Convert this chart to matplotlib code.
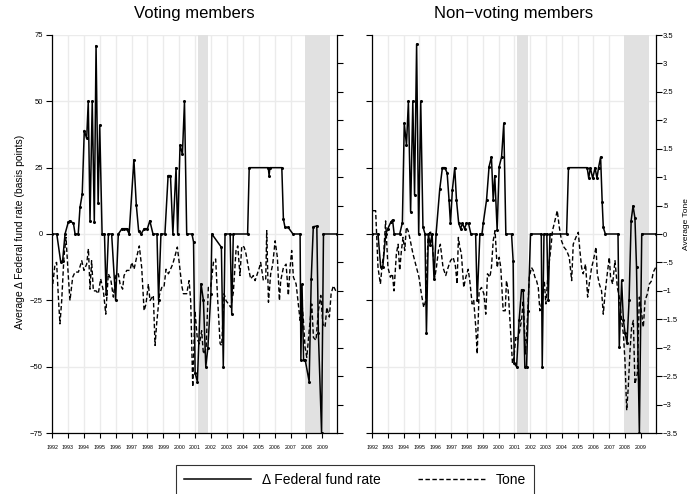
import numpy as np
import matplotlib
matplotlib.use("Agg")
import matplotlib.pyplot as plt
from matplotlib.lines import Line2D
from matplotlib.ticker import FuncFormatter

plt.rcParams['font.family'] = ['Liberation Sans', 'DejaVu Sans']
plt.rcParams['axes.unicode_minus'] = True

# ---------------- data ----------------
# Voting members: change in federal funds rate (basis points)
vote_rate_t = [1992.00, 1992.30, 1992.55, 1992.67, 1992.82, 1993.02, 1993.12, 1993.35, 1993.45, 1993.65,
               1993.76, 1993.90, 1994.03, 1994.18, 1994.28, 1994.39, 1994.53, 1994.66, 1994.77, 1994.90,
               1995.00, 1995.15, 1995.30, 1995.40, 1995.55, 1995.75, 1996.00, 1996.17, 1996.40, 1996.55,
               1996.70, 1996.85, 1997.15, 1997.30, 1997.45, 1997.60, 1997.80, 1998.00, 1998.15, 1998.35,
               1998.60, 1998.70, 1998.85, 1999.10, 1999.30, 1999.45, 1999.60, 1999.80, 1999.90, 2000.05,
               2000.20, 2000.33, 2000.47, 2000.80, 2000.90, 2001.00, 2001.14, 2001.37, 2001.52, 2001.67,
               2001.80, 2001.99, 2002.05, 2002.65, 2002.77, 2002.88, 2003.20, 2003.30, 2003.40, 2004.30,
               2004.40, 2005.60, 2005.65, 2005.70, 2006.45, 2006.55, 2006.65, 2006.85, 2007.15, 2007.60,
               2007.65, 2007.72, 2007.82, 2007.92, 2008.17, 2008.30, 2008.43, 2008.65, 2008.75, 2008.95,
               2009.07, 2009.92]
vote_rate = [0, 0, -10.6, -10, 0, 4.4, 5, 4, 0, 0,
             10, 15, 39, 36, 50, 5, 50, 4.6, 71, 11.5,
             41, 0, 0, -22.5, 0, 0, -25, 0, 2, 2,
             2, 0, 28, 11, 1, 0, 2, 2, 5, 0,
             0, -25, 0, 0, 22, 22, 0, 25, 0, 33.5,
             30, 50, 0, 0, -3, -52.5, -55.6, -18.75, -25, -50,
             -43, -22.5, 0, -5, -50, 0, 0, -30, 0, 0,
             25, 25, 22, 25, 25, 5.6, 2.5, 2.5, 0, 0,
             -47.5, -19, -47.5, -47.5, -55.6, -17, 2.75, 3, -37.5, -75,
             0, 0]

# Voting members: average tone
vote_tone_t = [1992.00, 1992.19, 1992.29, 1992.40, 1992.50, 1992.61, 1992.75, 1992.88, 1993.03, 1993.13,
               1993.30, 1993.45, 1993.66, 1993.87, 1994.01, 1994.18, 1994.29, 1994.39, 1994.49, 1994.60,
               1994.77, 1994.91, 1995.06, 1995.23, 1995.38, 1995.54, 1995.69, 1995.86, 1996.03, 1996.17,
               1996.28, 1996.44, 1996.53, 1996.70, 1996.91, 1997.01, 1997.16, 1997.32, 1997.49, 1997.64,
               1997.79, 1997.91, 1998.06, 1998.16, 1998.37, 1998.48, 1998.58, 1998.75, 1998.90, 1999.04,
               1999.17, 1999.32, 1999.42, 1999.59, 1999.74, 1999.88, 2000.01, 2000.16, 2000.26, 2000.47,
               2000.62, 2000.72, 2000.85, 2000.99, 2001.14, 2001.27, 2001.41, 2001.52, 2001.69, 2001.83,
               2001.98, 2002.15, 2002.29, 2002.42, 2002.57, 2002.67, 2002.82, 2002.94, 2003.09, 2003.24,
               2003.40, 2003.57, 2003.68, 2003.82, 2003.93, 2004.08, 2004.20, 2004.35, 2004.49, 2004.66,
               2004.77, 2004.91, 2005.04, 2005.12, 2005.29, 2005.44, 2005.50, 2005.61, 2005.75, 2005.88,
               2006.03, 2006.17, 2006.30, 2006.38, 2006.55, 2006.72, 2006.86, 2006.97, 2007.07, 2007.18,
               2007.35, 2007.49, 2007.60, 2007.70, 2007.81, 2007.91, 2008.02, 2008.12, 2008.23, 2008.33,
               2008.44, 2008.60, 2008.75, 2008.90, 2009.03, 2009.17, 2009.28, 2009.44, 2009.55, 2009.69,
               2009.84]
vote_tone = [-1.00, -0.53, -0.50, -1.11, -1.58, -1.17, -0.41, -0.06, -0.76, -1.17,
             -0.76, -0.67, -0.67, -0.47, -0.64, -0.53, -0.26, -0.97, -0.47, -1.00,
             -1.00, -1.05, -0.79, -1.00, -1.41, -0.70, -0.79, -1.11, -0.70, -0.70,
             -0.88, -0.97, -0.73, -0.64, -0.64, -0.50, -0.62, -0.41, -0.21, -0.59,
             -1.35, -1.23, -0.88, -1.17, -1.08, -1.96, -1.58, -1.08, -0.94, -0.94,
             -0.62, -0.70, -0.64, -0.53, -0.38, -0.23, -0.53, -0.91, -1.05, -1.05,
             -0.82, -1.17, -2.69, -1.35, -1.85, -1.93, -1.70, -2.11, -2.02, -0.94,
             -0.94, -0.50, -0.44, -1.17, -1.93, -1.96, -1.05, -1.17, -1.23, -1.29,
             -1.03, -0.29, -0.21, -0.73, -0.21, -0.23, -0.35, -0.59, -0.79, -0.73,
             -0.82, -0.70, -0.59, -0.50, -0.82, -0.79, 0.06, -1.20, -0.70, -0.53,
             -0.12, -0.41, -1.17, -0.82, -0.59, -0.53, -1.08, -0.59, -0.29, -0.76,
             -0.88, -1.23, -1.52, -1.17, -1.52, -1.99, -2.17, -1.85, -1.52, -1.23,
             -1.82, -1.87, -1.35, -1.08, -1.58, -1.64, -1.29, -1.46, -1.05, -0.91,
             -1.00]

# Non-voting members: change in federal funds rate (basis points)
nonvote_rate_t = [1992.00, 1992.38, 1992.55, 1992.68, 1992.87, 1993.00, 1993.20, 1993.30, 1993.40, 1993.75,
                  1993.92, 1994.04, 1994.18, 1994.30, 1994.44, 1994.58, 1994.69, 1994.82, 1994.95, 1995.08,
                  1995.22, 1995.35, 1995.44, 1995.56, 1995.68, 1995.80, 1995.92, 1996.05, 1996.28, 1996.45,
                  1996.60, 1996.75, 1996.87, 1996.96, 1997.08, 1997.23, 1997.34, 1997.48, 1997.60, 1997.72,
                  1997.85, 1997.97, 1998.10, 1998.25, 1998.55, 1998.65, 1998.82, 1998.95, 1999.03, 1999.24,
                  1999.40, 1999.55, 1999.66, 1999.76, 1999.91, 2000.04, 2000.19, 2000.33, 2000.46, 2000.82,
                  2000.92, 2000.99, 2001.14, 2001.30, 2001.45, 2001.56, 2001.66, 2001.77, 2001.87, 2002.02,
                  2002.70, 2002.76, 2002.87, 2003.05, 2003.14, 2003.25, 2004.30, 2004.42, 2005.60, 2005.70,
                  2005.80, 2005.95, 2006.10, 2006.22, 2006.32, 2006.45, 2006.55, 2006.62, 2006.75, 2007.55,
                  2007.63, 2007.78, 2007.89, 2008.00, 2008.12, 2008.25, 2008.38, 2008.50, 2008.62, 2008.72,
                  2008.90, 2009.05, 2009.92]
nonvote_rate = [0, 0, -12.5, -12.5, 0, 2, 4.6, 5.3, 0, 0,
                4.3, 41.7, 33.5, 50, 8.4, 50, 14.7, 71.6, 0, 50,
                2.8, 0, -37.5, 0, -4, 0, -17, 0, 16.8, 25,
                25, 23, 12.8, 4, 16.6, 25, 12.8, 4, 2, 4,
                2, 4, 4, 0, 0, -25, 0, 0, 4, 12.8,
                25.4, 29, 12.8, 22, 1.5, 25.4, 29, 41.7, 0, 0,
                -10, -48.75, -50, -32.5, -21, -21, -50, -50, -29, 0,
                0, -50, 0, 0, -25, 0, 0, 25, 25, 21,
                25, 21, 25, 21, 25, 29, 12, 2.5, 0, 0,
                -42.5, -17.5, -32.5, -37.5, -41, -25, 5, 10.6, 6, -12.5,
                -75, 0, 0]

# Non-voting members: average tone
nonvote_tone_t = [1992.06, 1992.23, 1992.38, 1992.53, 1992.65, 1992.74, 1992.86, 1993.01, 1993.16, 1993.29,
                  1993.39, 1993.54, 1993.65, 1993.75, 1993.86, 1993.96, 1994.07, 1994.17, 1994.28, 1994.38,
                  1994.59, 1994.81, 1994.97, 1995.12, 1995.27, 1995.40, 1995.54, 1995.69, 1995.82, 1995.97,
                  1996.07, 1996.20, 1996.32, 1996.49, 1996.66, 1996.81, 1996.96, 1997.13, 1997.27, 1997.38,
                  1997.46, 1997.55, 1997.65, 1997.80, 1997.93, 1998.08, 1998.18, 1998.33, 1998.43, 1998.56,
                  1998.65, 1998.77, 1998.92, 1999.07, 1999.19, 1999.30, 1999.45, 1999.55, 1999.66, 1999.78,
                  1999.91, 2000.04, 2000.14, 2000.29, 2000.42, 2000.50, 2000.61, 2000.76, 2000.88, 2000.97,
                  2001.09, 2001.18, 2001.30, 2001.45, 2001.56, 2001.70, 2001.83, 2001.94, 2002.08, 2002.19,
                  2002.30, 2002.40, 2002.51, 2002.61, 2002.76, 2002.89, 2002.99, 2003.14, 2003.29, 2003.41,
                  2003.56, 2003.71, 2003.84, 2003.98, 2004.13, 2004.30, 2004.47, 2004.62, 2004.72, 2004.89,
                  2005.04, 2005.14, 2005.25, 2005.35, 2005.50, 2005.63, 2005.73, 2005.88, 2005.99, 2006.16,
                  2006.24, 2006.37, 2006.51, 2006.62, 2006.73, 2006.87, 2007.00, 2007.08, 2007.21, 2007.36,
                  2007.51, 2007.63, 2007.78, 2007.89, 2007.99, 2008.10, 2008.20, 2008.31, 2008.41, 2008.52,
                  2008.62, 2008.77, 2008.90, 2009.05, 2009.15, 2009.26, 2009.41, 2009.53, 2009.68, 2009.78,
                  2009.93]
nonvote_tone = [0.41, 0.41, -0.59, -0.88, -0.53, -0.35, 0.23, -0.59, -0.76, -0.70,
                -1.00, -0.35, -0.18, -0.64, -0.29, -0.06, -0.29, 0.12, 0.06, -0.06,
                -0.35, -0.59, -0.76, -1.05, -1.29, -1.17, -0.06, 0.06, -0.18, -0.76,
                -0.59, -0.29, -0.18, -0.59, -0.73, -0.59, -0.47, -0.41, -0.56, -0.88,
                -0.06, -0.23, -0.35, -0.94, -0.76, -0.62, -0.82, -1.23, -1.17, -1.64,
                -2.11, -1.00, -0.94, -1.05, -1.41, -0.70, -0.76, -0.59, -0.12, 0.06,
                -0.59, -0.41, -0.59, -1.35, -1.35, -0.82, -1.00, -1.70, -2.28, -2.17,
                -1.82, -1.87, -1.76, -1.52, -1.17, -2.11, -1.46, -0.76, -0.59, -0.64,
                -0.76, -0.82, -0.94, -1.35, -1.17, -0.82, -1.23, -0.64, -0.29, 0.06,
                0.23, 0.41, 0.12, -0.12, -0.23, -0.29, -0.41, -0.82, -0.18, -0.06,
                0.03, -0.29, -0.59, -0.70, -0.53, -1.11, -0.88, -0.59, -0.47, -0.23,
                -0.70, -0.88, -1.00, -1.41, -1.05, -0.70, -0.41, -0.76, -0.88, -0.47,
                -0.94, -1.11, -1.52, -1.76, -2.23, -3.10, -2.69, -2.05, -1.64, -1.52,
                -2.64, -2.46, -1.11, -1.41, -1.64, -1.17, -1.05, -0.88, -0.82, -0.67,
                -0.59]

# NBER recession periods (decimal years)
recessions = [(2001.17, 2001.83), (2007.92, 2009.50)]

year_ticks = list(range(1992, 2010))
year_labels = [str(y) for y in year_ticks]
rate_ticks = [-75, -50, -25, 0, 25, 50, 75]
tone_ticks = [-3.5, -3, -2.5, -2, -1.5, -1, -0.5, 0, 0.5, 1, 1.5, 2, 2.5, 3, 3.5]


def stata_fmt(v, _pos=None):
    s = ("%g" % v)
    s = s.replace("0.", ".")
    return s.replace("-", "\u2212")


W, H = 692, 494
fig = plt.figure(figsize=(W / 100, H / 100), dpi=100)

panels = [
    ("Voting members", 52, 337, vote_rate_t, vote_rate, vote_tone_t, vote_tone, True),
    ("Non\u2212voting members", 372, 655.5, nonvote_rate_t, nonvote_rate, nonvote_tone_t, nonvote_tone, False),
]

top_px, bot_px = 35, 433
for title, x0, x1, rt, rv, tt, tv, is_left in panels:
    ax = fig.add_axes([x0 / W, 1 - bot_px / H, (x1 - x0) / W, (bot_px - top_px) / H])
    ax.set_xlim(1992, 2009.92)
    ax.set_ylim(-75, 75)
    ax.set_axisbelow(True)
    ax.set_xticks(year_ticks)
    ax.set_xticklabels(year_labels)
    ax.set_yticks(rate_ticks)
    ax.yaxis.set_major_formatter(FuncFormatter(stata_fmt))
    ax.grid(True, color='#ebebeb', lw=1.0)
    for a, b in recessions:
        ax.axvspan(a, b, color='#e1e1e1', lw=0, zorder=1)
    ax.plot(rt, rv, color='black', lw=1.1, marker='o', ms=1.2, zorder=3)
    for s in ('top', 'right'):
        ax.spines[s].set_visible(False)
    for s in ('left', 'bottom'):
        ax.spines[s].set_linewidth(0.9)
    ax.tick_params(axis='x', direction='out', length=3.3, width=0.8, labelsize=3.8, pad=5.5)
    ax.tick_params(axis='y', direction='out', length=4.5, width=0.8, labelsize=5.5, pad=2,
                   labelleft=is_left)

    ax2 = ax.twinx()
    ax2.set_ylim(-3.5, 3.5)
    ax2.set_yticks(tone_ticks)
    ax2.yaxis.set_major_formatter(FuncFormatter(stata_fmt))
    ax2.plot(tt, tv, color='black', lw=1.0, ls=(0, (3.2, 1.8)), zorder=3)
    for s in ('top', 'left', 'bottom'):
        ax2.spines[s].set_visible(False)
    ax2.spines['right'].set_linewidth(0.9)
    ax2.tick_params(axis='y', direction='out', length=4, width=0.8, labelsize=5.5, pad=1.2,
                    labelright=not is_left)

    fig.text((x0 + x1) / 2 / W, 1 - 18 / H, title, ha='center', va='baseline', fontsize=12)

fig.text(20 / W, 1 - 232 / H, "Average \u0394 Federal fund rate (basis points)",
         rotation=90, ha='center', va='center', fontsize=7.5)
fig.text(686 / W, 1 - 224 / H, "Average Tone", rotation=90, ha='center', va='center', fontsize=6)

handles = [Line2D([], [], color='black', lw=1.1),
           Line2D([], [], color='black', lw=1.0, ls=(0, (3.2, 1.8)))]
leg = fig.legend(handles, ["\u0394 Federal fund rate", "Tone"], loc='upper center',
                 bbox_to_anchor=(355 / W, 1 - 465 / H), ncol=2, frameon=True, fancybox=False,
                 edgecolor='black', fontsize=10, handlelength=4.8, handletextpad=0.8,
                 columnspacing=2.7, borderpad=0.6, borderaxespad=0)
leg.get_frame().set_linewidth(0.8)

fig.savefig("out.png", dpi=100)
